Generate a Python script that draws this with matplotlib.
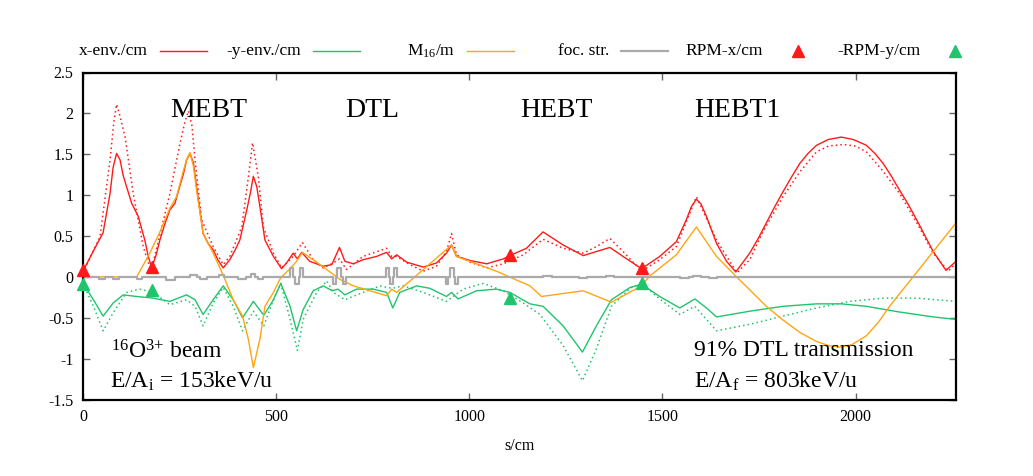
import numpy as np
import matplotlib
matplotlib.use("Agg")
import matplotlib.pyplot as plt
from matplotlib.lines import Line2D
from matplotlib.ticker import FuncFormatter

# ---- DATA ----
# x envelope, solid
xenv_s = [0, 25, 52, 70, 78, 87, 96, 104, 113, 126, 143, 160, 169, 178, 190, 199, 212, 225, 238, 250, 260, 268, 277,
          286, 294, 311, 325, 337, 350, 363, 380, 393, 406, 424, 433, 441, 450, 458, 471, 493, 514, 527, 544, 555, 566, 587,
          622, 644, 664, 678, 700, 725, 760, 786, 799, 812, 838, 881, 915, 941, 954, 967, 1002, 1045, 1088, 1105,
          1148, 1191, 1243, 1295, 1329, 1364, 1398, 1446, 1493, 1536, 1562, 1575, 1588, 1600, 1614, 1640, 1666, 1690, 1726,
          1748, 1769, 1791, 1812, 1834, 1856, 1877, 1899, 1929, 1963, 1994, 2028, 2050, 2071, 2093, 2114, 2136, 2158,
          2180, 2201, 2234, 2260]
xenv = [0.07, 0.3, 0.54, 1.02, 1.34, 1.51, 1.43, 1.24, 1.10, 0.90, 0.74, 0.45, 0.25, 0.11, 0.28, 0.45, 0.65, 0.82, 0.90,
        1.10, 1.26, 1.43, 1.51, 1.39, 1.10, 0.53, 0.40, 0.33, 0.20, 0.11, 0.21, 0.32, 0.45, 0.82, 1.02, 1.23, 1.10, 0.86, 0.45,
        0.25, 0.10, 0.17, 0.29, 0.22, 0.30, 0.19,
        0.13, 0.15, 0.36, 0.19, 0.16, 0.21, 0.25, 0.30, 0.22, 0.27, 0.18, 0.12, 0.17, 0.29, 0.39, 0.25, 0.20, 0.16, 0.22, 0.26,
        0.35, 0.55, 0.39, 0.26, 0.31, 0.36, 0.25, 0.10, 0.25, 0.43, 0.70, 0.86, 0.95, 0.89, 0.74, 0.41, 0.19, 0.06, 0.29,
        0.47, 0.66, 0.86, 1.04, 1.22, 1.39, 1.51, 1.61, 1.68, 1.71, 1.68, 1.61, 1.51, 1.39, 1.23, 1.06, 0.89, 0.70,
        0.50, 0.31, 0.08, 0.19]

# x envelope, dotted
xdot_s = [0, 44, 70, 80, 87, 95, 109, 130, 156, 176, 204, 225, 251, 264, 273, 282, 290, 307, 337, 363, 380, 411, 428, 439,
          454, 467, 493, 514, 544, 568, 596, 622, 648, 664, 682, 725, 786, 799, 812, 846, 881, 915, 941, 954,
          967, 1002, 1045, 1088, 1140, 1191, 1243, 1295, 1329, 1364, 1398, 1446, 1493, 1536, 1588, 1640, 1693,
          1726, 1760, 1812, 1855, 1899, 1930, 1968, 2000, 2028, 2070, 2114, 2160, 2201, 2240, 2260]
xdot = [0.05, 0.49, 1.43, 1.90, 2.11, 1.98, 1.71, 1.02, 0.37, 0.07, 0.61, 1.02, 1.63, 1.90, 2.03, 1.85, 1.43, 0.70, 0.37,
        0.15, 0.25, 0.61, 1.22, 1.64,
        1.22, 0.61, 0.29, 0.11, 0.25, 0.42, 0.21, 0.11, 0.17, 0.22, 0.09, 0.25, 0.35, 0.25, 0.25, 0.15, 0.07, 0.13, 0.31, 0.53,
        0.27, 0.18, 0.11, 0.16, 0.27, 0.46, 0.35, 0.29, 0.37, 0.47, 0.31, 0.07, 0.21, 0.37, 0.98, 0.45, 0.05,
        0.21, 0.55, 0.98, 1.28, 1.53, 1.60, 1.62, 1.60, 1.53, 1.30, 1.02, 0.65, 0.29, 0.07, 0.17]

# -y envelope, solid
yenv_s = [0, 27, 52, 78, 104, 139, 182, 225, 268, 290, 311, 337, 363, 389, 413, 441, 468, 493, 512, 536,
          553, 570, 596, 622, 645, 660, 678, 708, 751, 786, 802, 820, 864, 898, 941, 954, 971, 1019, 1070, 1105,
          1157, 1191, 1243, 1293, 1329, 1368, 1416, 1446, 1493, 1545, 1584, 1614, 1640, 1726, 1812, 1899, 1963,
          2028, 2114, 2201, 2260]
yenv = [-0.08, -0.28, -0.48, -0.32, -0.22, -0.24, -0.26, -0.30, -0.22, -0.28, -0.46, -0.28, -0.11, -0.28, -0.50, -0.30,
        -0.47, -0.28, -0.08, -0.36, -0.66, -0.40, -0.17, -0.11, -0.17, -0.15, -0.22, -0.15, -0.15, -0.19, -0.38, -0.19,
        -0.11, -0.14, -0.24, -0.19, -0.27, -0.17, -0.15, -0.19, -0.33, -0.36, -0.60, -0.92, -0.60, -0.28, -0.13, -0.09,
        -0.24, -0.38, -0.27, -0.38, -0.49, -0.42, -0.36, -0.33, -0.33, -0.36, -0.43, -0.49, -0.52]

# -y envelope, dotted
ydot_s = [0, 27, 52, 78, 113, 147, 182, 225, 268, 290, 311, 337, 363, 389, 413, 441, 468, 493, 512, 536,
          555, 570, 605, 631, 648, 678, 725, 769, 800, 829, 881, 941, 984, 1036, 1088, 1140, 1183, 1243, 1293, 1329,
          1368, 1416, 1446, 1493, 1545, 1584, 1640, 1726, 1812, 1899, 1985, 2071, 2158, 2260]
ydot = [-0.08, -0.36, -0.66, -0.44, -0.19, -0.15, -0.19, -0.34, -0.28, -0.36, -0.60, -0.32, -0.13, -0.36, -0.66, -0.42,
        -0.60, -0.28, -0.08, -0.52, -0.90, -0.52, -0.19, -0.05, -0.19, -0.28, -0.19, -0.11, -0.14, -0.11, -0.19, -0.30,
        -0.15, -0.08, -0.17, -0.32, -0.46, -0.84, -1.27, -0.88, -0.36, -0.14, -0.08, -0.27, -0.46, -0.36, -0.66, -0.58,
        -0.48, -0.38, -0.30, -0.26, -0.26, -0.30]

# M16 dispersion
m16_s = [0, 139, 173, 199, 225, 242, 260, 268, 277, 286, 294, 311, 337, 363, 389, 413, 428, 441, 458, 471, 493, 512,
         536, 553, 568, 596, 631, 665, 700, 786, 799, 812, 881, 954, 967, 1070, 1157, 1187, 1295, 1368, 1446, 1467,
         1536, 1588, 1640, 1692, 1720, 1769, 1810, 1856, 1899, 1930, 1959, 1990, 2028, 2060, 2088, 2120, 2149, 2201, 2260]
m16 = [0.0, 0.0, 0.29, 0.55, 0.84, 0.98, 1.30, 1.43, 1.52, 1.35, 1.06, 0.53, 0.29, 0.02, -0.28, -0.48, -0.76, -1.11,
       -0.76, -0.36, -0.19, -0.01, 0.10, 0.19, 0.30, 0.21, 0.09, -0.03, -0.11, -0.23, -0.15, -0.19, 0.09, 0.39, 0.25,
       0.07, -0.11, -0.24, -0.17, -0.31, -0.11, 0.01, 0.27, 0.61, 0.25, 0.0, -0.13, -0.36, -0.52, -0.68, -0.79, -0.84,
       -0.86, -0.83, -0.72, -0.55, -0.36, -0.17, 0.0, 0.31, 0.66]

# focusing strength (step values, valid from each position on)
foc_s = [0, 41, 58, 78, 93, 139, 152, 216, 238, 277, 294, 302, 320, 353, 366, 400, 423, 436, 445, 453,
         467, 537, 544, 549, 560, 563, 570, 648, 655, 658, 669, 672, 681, 784, 791, 794, 803, 806, 813, 939,
         945, 949, 960, 963, 970, 1190, 1215, 1285, 1305, 1355, 1375, 1545, 1570, 1580, 1600, 1620, 1640, 2260]
foc = [0, -0.02, 0, -0.02, 0, -0.03, 0, -0.04, 0, 0.02, 0, -0.03, 0, 0.02, 0, -0.02, 0, 0.03, 0, -0.03,
       0, 0.11, 0, -0.09, 0, 0.11, 0, -0.09, 0, 0.11, 0, -0.09, 0, 0.11, 0, -0.09, 0, 0.11, 0, -0.09,
       0, 0.11, 0, -0.09, 0, 0.01, 0, -0.01, 0, 0.01, 0, -0.01, 0, 0.01, 0, -0.01, 0, 0]

# profile monitor readings
rpm_s = [0, 178, 1105, 1446]
rpm_x = [0.08, 0.12, 0.27, 0.11]
rpm_y = [-0.09, -0.16, -0.26, -0.08]

sections = ["MEBT", "DTL", "HEBT", "HEBT1"]
section_s = [225, 678, 1131, 1582]

W, H = 1033, 476
RED = "#ff1a1a"
GREEN = "#20c46c"
ORANGE = "#ffa510"
GRAY = "#aaaaaa"
SERIF = "Liberation Serif"

plt.rcParams["font.family"] = SERIF
plt.rcParams["mathtext.fontset"] = "custom"
plt.rcParams["mathtext.rm"] = SERIF
plt.rcParams["mathtext.it"] = SERIF + ":italic"
plt.rcParams["axes.unicode_minus"] = False

fig = plt.figure(figsize=(W / 100, H / 100), dpi=100)
ax = fig.add_axes([83 / W, 1 - 399.5 / H, (956 - 83) / W, (399.5 - 72.5) / H])

dots = (0, (1, 2))
ax.plot(xenv_s, xenv, color=RED, lw=1.0)
ax.plot(xdot_s, xdot, color=RED, lw=1.1, ls=dots)
ax.plot(yenv_s, yenv, color=GREEN, lw=1.0)
ax.plot(ydot_s, ydot, color=GREEN, lw=1.1, ls=dots)
ax.plot(m16_s, m16, color=ORANGE, lw=1.0)
ax.plot(foc_s, foc, color=GRAY, lw=1.6, drawstyle="steps-post")
ax.plot(rpm_s, rpm_x, ls="none", marker="^", color=RED, ms=8, clip_on=False, zorder=5)
ax.plot(rpm_s, rpm_y, ls="none", marker="^", color=GREEN, ms=8, clip_on=False, zorder=5)

ax.set_xlim(0, 2260)
ax.set_ylim(-1.5, 2.5)
ax.set_xticks([0, 500, 1000, 1500, 2000])
ax.set_yticks(np.arange(-1.5, 2.51, 0.5))
ax.yaxis.set_major_formatter(FuncFormatter(lambda v, p: "%g" % v))
ax.tick_params(direction="in", length=5, width=1, color="#666666", top=True, right=True,
               labelsize=11.5, pad=7)
for sp in ax.spines.values():
    sp.set_linewidth(1.6)
ax.set_xlabel("s/cm", fontsize=11.5, labelpad=9)

for name, s in zip(sections, section_s):
    ax.text(s, 1.95, name, fontsize=20, ha="left", va="baseline")

ax.text(72, -1.0, "$^{\\mathrm{16}}$O$^{\\mathrm{3}{+}}$ beam", fontsize=17, ha="left", va="baseline")
ax.text(71, -1.35, "E/A$_\\mathrm{i}$ = 153keV/u", fontsize=17, ha="left", va="baseline")
ax.text(1582, -0.965, "91% DTL transmission", fontsize=17, ha="left", va="baseline")
ax.text(1582, -1.35, "E/A$_\\mathrm{f}$ = 803keV/u", fontsize=17, ha="left", va="baseline")

# gnuplot style key row above the plot
key_y = 1 - 51 / H
key = [("x-env./cm", 148, RED, "line"), ("-y-env./cm", 301, GREEN, "line"),
       ("M$_{\\mathrm{16}}$/m", 455, ORANGE, "line"), ("foc. str.", 609, GRAY, "line"),
       ("RPM-x/cm", 763, RED, "tri"), ("-RPM-y/cm", 920, GREEN, "tri")]
for label, xr, col, kind in key:
    fig.text(xr / W, key_y, label, fontsize=12.5, ha="right", va="center")
    if kind == "line":
        fig.add_artist(Line2D([(xr + 12) / W, (xr + 59) / W], [key_y, key_y], color=col,
                              lw=1.6 if col == GRAY else 1.0, transform=fig.transFigure))
    else:
        fig.add_artist(Line2D([(xr + 35) / W], [key_y], ls="none", marker="^", ms=8,
                              color=col, transform=fig.transFigure))

fig.savefig("out.png", dpi=100)
